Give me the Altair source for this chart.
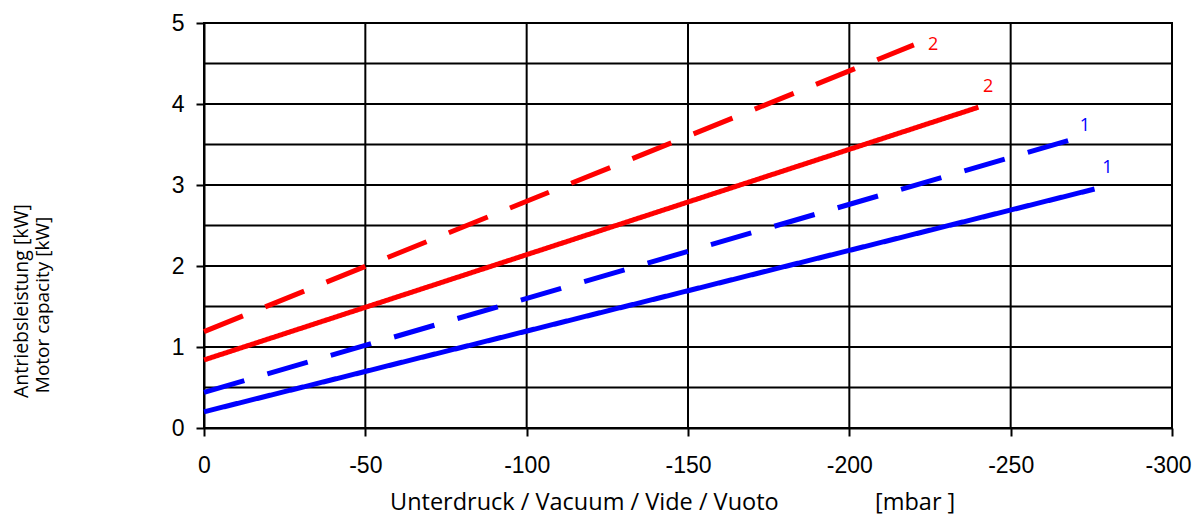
import altair as alt
import pandas as pd

# --- data ---
series = ["2 dashed", "2 solid", "1 dashed", "1 solid"]
x_start = [0, 0, 0, 0]
x_end = [-220, -240, -268, -276]
y_start = [1.19, 0.84, 0.44, 0.20]
y_end = [4.73, 3.96, 3.55, 2.95]
colors = ["#ff0000", "#ff0000", "#0000ff", "#0000ff"]
dashes = [[42, 24], [1, 0], [42, 24], [1, 0]]

label_text = ["2", "2", "1", "1"]
label_x = [-226, -243, -273, -280]
label_y = [4.73, 4.21, 3.73, 3.21]

x_ticks = [0, -50, -100, -150, -200, -250, -300]
y_ticks = [0, 1, 2, 3, 4, 5]
x_grid = [-50, -100, -150, -200, -250]
y_grid = [0.5, 1, 1.5, 2, 2.5, 3, 3.5, 4, 4.5]

x_title = "Unterdruck / Vacuum / Vide / Vuoto"
x_unit = "[mbar ]"
y_title_1 = "Antriebsleistung [kW]"
y_title_2 = "Motor capacity [kW]"

rows = []
for s, xs, xe, ys, ye in zip(series, x_start, x_end, y_start, y_end):
    rows.append({"series": s, "x": xs, "y": ys})
    rows.append({"series": s, "x": xe, "y": ye})
lines_df = pd.DataFrame(rows)
labels_df = pd.DataFrame({"series": series, "x": label_x, "y": label_y, "text": label_text})

xscale = alt.Scale(domain=[-300, 0], reverse=True, nice=False, zero=False)
yscale = alt.Scale(domain=[0, 5], nice=False)

x_axis = alt.Axis(values=x_ticks, title=None, grid=False, domainColor="black", domainWidth=2,
                  tickColor="black", tickWidth=2, tickSize=8, labelFont="Liberation Sans",
                  labelFontSize=23, labelColor="black", labelPadding=18, labelFlush=False,
                  labelOverlap=False, labelExpr="toString(datum.value)",
                  labelOffset={"condition": {"test": "datum.value == -300", "value": -4},
                               "value": 0})
y_axis = alt.Axis(values=y_ticks, title=None, grid=False, domainColor="black", domainWidth=2,
                  tickColor="black", tickWidth=2, tickSize=8, labelFont="Liberation Sans",
                  labelFontSize=23, labelColor="black", labelPadding=12, labelFlush=False,
                  labelOverlap=False, format="d")

color_scale = alt.Scale(domain=series, range=colors)
dash_scale = alt.Scale(domain=series, range=dashes)

hgrid = alt.Chart(pd.DataFrame({"y": y_grid})).mark_rule(color="black", strokeWidth=2).encode(
    y=alt.Y("y:Q", scale=yscale, axis=y_axis))
vgrid = alt.Chart(pd.DataFrame({"x": x_grid})).mark_rule(color="black", strokeWidth=2).encode(
    x=alt.X("x:Q", scale=xscale, axis=x_axis))

lines = alt.Chart(lines_df).mark_line(strokeWidth=5, strokeCap="butt").encode(
    x=alt.X("x:Q", scale=xscale, axis=x_axis),
    y=alt.Y("y:Q", scale=yscale, axis=y_axis),
    color=alt.Color("series:N", scale=color_scale, legend=None),
    strokeDash=alt.StrokeDash("series:N", scale=dash_scale, legend=None),
    detail="series:N",
)

labels = alt.Chart(labels_df).mark_text(font="Open Sans", fontSize=18, align="center",
                                        baseline="middle").encode(
    x=alt.X("x:Q", scale=xscale),
    y=alt.Y("y:Q", scale=yscale),
    text="text:N",
    color=alt.Color("series:N", scale=color_scale, legend=None),
)

one = pd.DataFrame({"a": [0]})
xt1 = alt.Chart(one).mark_text(text=x_title, font="Open Sans", fontSize=23.5, align="left",
                               baseline="middle", color="black").encode(
    x=alt.value(186), y=alt.value(480))
xt2 = alt.Chart(one).mark_text(text=x_unit, font="Open Sans", fontSize=23.5, align="left",
                               baseline="middle", color="black").encode(
    x=alt.value(671), y=alt.value(480))
yt1 = alt.Chart(one).mark_text(text=y_title_1, font="Open Sans", fontSize=19.5, align="center",
                               baseline="middle", angle=270, color="black").encode(
    x=alt.value(-182), y=alt.value(278))
yt2 = alt.Chart(one).mark_text(text=y_title_2, font="Open Sans", fontSize=19, align="center",
                               baseline="middle", angle=270, color="black").encode(
    x=alt.value(-161), y=alt.value(282))

chart = alt.layer(hgrid, vgrid, lines, labels, xt1, xt2, yt1, yt2).properties(
    width=968, height=405,
    autosize=alt.AutoSizeParams(type="none"),
    padding={"left": 196, "top": 15, "right": 21, "bottom": 90},
    background="white",
).configure_view(stroke="black", strokeWidth=2)

chart.save("out.html", embed_options={"renderer": "svg", "actions": False})
